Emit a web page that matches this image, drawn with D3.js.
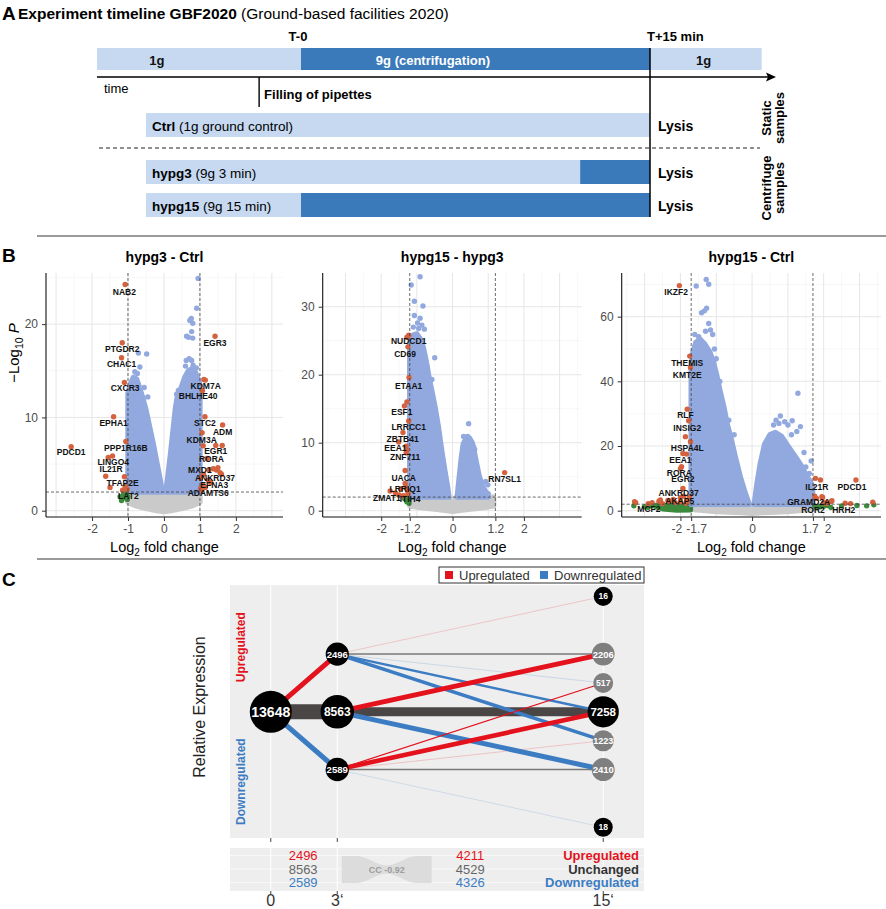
<!DOCTYPE html>
<html><head><meta charset="utf-8">
<script src="https://cdn.jsdelivr.net/npm/d3@7"></script>
<style>
body{margin:0;background:#fff}
svg{display:block}
text{font-family:"Liberation Sans",Arial,Helvetica,sans-serif}
</style></head>
<body><svg id="c" width="886" height="909"></svg>
<script>
// ================= DATA =================
// --- A: timeline (minutes relative to T-0) ---
const phases = [
  {label:"1g", start:-8.77, end:0, g:1, labelAt:-6.2},
  {label:"9g (centrifugation)", start:0, end:15, g:9, labelAt:5.67},
  {label:"1g", start:15, end:19.8, g:1, labelAt:17.3}
];
const timeEvents = [{label:"T-0", t:0, anchor:"middle"}, {label:"T+15 min", t:15, anchor:"start"}];
const fillingTime = -1.8;
const samples = [
  {name:"Ctrl", desc:" (1g ground control)", start:-6.66, end:15, g9from:null},
  {name:"hypg3", desc:" (9g 3 min)", start:-6.66, end:15, g9from:12},
  {name:"hypg15", desc:" (9g 15 min)", start:-6.66, end:15, g9from:0}
];
const sampleGroups = [["Static","samples"],["Centrifuge","samples"]];

// --- B: volcano plots (x = log2 FC, y = -log10 P) ---
const p1Grey = [[-1,2],[-0.08,2],[0,0.6],[0.08,2],[1,2],[1,0.9],[0.8,0.55],[0.5,0.25],[0.2,0.02],[0,-0.1],[-0.2,0.02],[-0.5,0.25],[-0.8,0.55],[-1,0.9]];
const p1BlueLeft = [[-1,2],[-1,12.6],[-0.93,13.6],[-0.85,14.3],[-0.76,14.1],[-0.68,13.2],[-0.6,12.2],[-0.5,10.8],[-0.4,9.0],[-0.3,7.2],[-0.2,5.2],[-0.1,3.2],[-0.05,2]];
const p1BlueRight = [[0.05,2],[0.1,3.4],[0.18,6],[0.25,8.5],[0.32,11],[0.38,12.4],[0.48,13.2],[0.58,14.3],[0.68,15],[0.78,15.2],[0.88,14.8],[0.96,14],[1,13.5],[1,2]];
const p1Points = [[-0.71,16.9],[-0.48,16.8],[-0.67,15.4],[-0.81,14.9],[-0.74,14.7],[-0.95,13.3],[-0.55,13.2],[-0.45,12.2],
  [0.95,24.9],[0.91,21.7],[0.72,20.4],[0.8,20.1],[0.76,20.6],[0.63,18.7],[0.77,19.2],[0.8,18.5],[0.68,18.6],[0.7,16.3],[0.77,16.1],[0.62,16.1],[0.81,15.6],[0.6,15.5],[0.9,15.3],[0.4,12.9],[0.35,12.5],
  [-1.55,5.71],[-1.1,3.64],[-1.08,2.6],[-1.02,2.3],[-1.15,2.2],[1.15,14.0],[1.09,6.96],[1.46,4.36],[1.56,4.07],[1.5,4.6],[1.02,3.5],[1.15,2.5],[1.6,3.9],[1.3,3.0],[1.02,2.4],[1.1,3.9],[1.25,4.4],[1.62,7.0],
  [-1.22,1.5],[-1.15,1.3],[-1.08,1.6],[-1.02,1.2],[-1.12,1.85],[-1.05,1.9],[-1.01,1.5],[-1.18,1.1]];
const p1Genes = [
  {gene:"NAB2",x:-1.08,y:24.25,lx:-1.1,ly:23.45},{gene:"PTGDR2",x:-1.16,y:18.0,lx:-1.16,ly:17.3},
  {gene:"CHAC1",x:-1.18,y:16.4,lx:-1.18,ly:15.7},{gene:"CXCR3",x:-1.1,y:13.75,lx:-1.08,ly:13.2},
  {gene:"EPHA1",x:-1.4,y:10.07,lx:-1.4,ly:9.36},{gene:"PPP1R16B",x:-1.06,y:7.43,lx:-1.06,ly:6.75},
  {gene:"PDCD1",x:-2.58,y:6.86,lx:-2.58,ly:6.25},{gene:"LINGO4",x:-1.43,y:5.86,lx:-1.41,ly:5.21},
  {gene:"IL21R",x:-1.62,y:3.7,lx:-1.47,ly:4.43},{gene:"TFAP2E",x:-1.5,y:2.5,lx:-1.15,ly:3.0},
  {gene:"LAT2",x:-1.1,y:1.5,lx:-0.99,ly:1.57},{gene:"EGR3",x:1.42,y:18.7,lx:1.42,ly:18.0},
  {gene:"KDM7A",x:1.11,y:14.07,lx:1.16,ly:13.36},{gene:"BHLHE40",x:1.07,y:12.86,lx:0.95,ly:12.3},
  {gene:"STC2",x:1.14,y:10.07,lx:1.14,ly:9.36},{gene:"ADM",x:1.63,y:9.18,lx:1.63,ly:8.43},
  {gene:"KDM3A",x:1.06,y:8.36,lx:1.05,ly:7.57},{gene:"EGR1",x:1.44,y:7.0,lx:1.44,ly:6.36},
  {gene:"RORA",x:1.2,y:5.6,lx:1.32,ly:5.5},{gene:"MXD1",x:1.37,y:4.5,lx:1.0,ly:4.36},
  {gene:"ANKRD37",x:1.23,y:3.28,lx:1.42,ly:3.55},{gene:"EFNA3",x:1.09,y:2.75,lx:1.4,ly:2.72},
  {gene:"ADAMTS6",x:1.05,y:2.2,lx:1.23,ly:1.9}];

const p2Grey = [[-1.2,2],[-0.1,2],[0,0.5],[0.1,2],[1.15,2],[1.15,0.7],[0.9,0.45],[0.5,0.25],[0.15,0],[0,-0.1],[-0.15,0],[-0.5,0.25],[-0.9,0.45],[-1.2,0.7]];
const p2BlueLeft = [[-1.2,2],[-1.2,24.5],[-1.12,25.8],[-1.0,26],[-0.9,25.2],[-0.82,24],[-0.74,22],[-0.66,19.6],[-0.57,17.3],[-0.49,15.2],[-0.4,12.4],[-0.31,9],[-0.22,6],[-0.14,3.5],[-0.1,2]];
const p2BlueRight = [[0.13,2],[0.18,4.5],[0.24,7.5],[0.3,9.8],[0.38,10.6],[0.47,10.7],[0.55,10.0],[0.61,8.6],[0.67,7],[0.75,5],[0.85,3.5],[0.97,2.4],[1.0,2]];
const p2Points = [[-0.91,34.4],[-1.16,33.2],[-1.07,30.8],[-0.83,30.1],[-1.07,28.7],[-0.91,28.3],[-0.86,27.3],[-0.79,26.7],[-0.98,27.6],[-0.5,22.5],[-0.72,21.2],[-0.58,19.3],[-1.1,27],[-0.95,26.8],
  [0.45,12.8],[0.31,10.9],[0.42,10.9],[0.46,10.6],[0.59,9.4],[0.62,9.0],[0.72,5.3],[0.93,4.3],[0.99,3.8],[0.9,3.0],[1.0,2.5],
  [-1.28,25.5],[-1.35,15.4],[-1.51,10.1],[-1.28,8.9],[-1.45,3.2],[-1.3,3.4],[-1.38,2.2],[-1.6,2.6],[-1.5,2.3],[-1.25,2.8],
  [-1.23,1.6],[-1.28,1.3],[-1.35,1.8],[-1.22,1.1]];
const p2Genes = [
  {gene:"NUDCD1",x:-1.23,y:25.8,lx:-1.23,ly:25.0},{gene:"CD69",x:-1.25,y:24.1,lx:-1.33,ly:23.0},
  {gene:"ETAA1",x:-1.22,y:19.6,lx:-1.23,ly:18.4},{gene:"ESF1",x:-1.28,y:16.0,lx:-1.42,ly:14.5},
  {gene:"LRRCC1",x:-1.23,y:13.2,lx:-1.23,ly:12.25},{gene:"ZBTB41",x:-1.39,y:11.5,lx:-1.4,ly:10.6},
  {gene:"EEA1",x:-1.3,y:9.5,lx:-1.6,ly:9.2},{gene:"ZNF711",x:-1.3,y:8.5,lx:-1.33,ly:7.9},
  {gene:"UACA",x:-1.33,y:5.9,lx:-1.37,ly:4.75},{gene:"LRRIQ1",x:-1.33,y:4.0,lx:-1.33,ly:3.14},
  {gene:"ZMAT1",x:-1.75,y:2.9,lx:-1.84,ly:1.8},{gene:"ITIH4",x:-1.25,y:2.4,lx:-1.19,ly:1.67},
  {gene:"RN7SL1",x:1.46,y:5.6,lx:1.46,ly:4.65}];

const p3Grey = [[-1.7,2],[-0.08,2],[0,0.5],[0.08,2],[1.7,2],[1.7,0.4],[1.0,-0.3],[0.3,-0.6],[0,-0.8],[-0.3,-0.6],[-1.0,-0.3],[-1.7,0.4]];
const p3Green = [[-2.7,1.3],[-2.5,0.6],[-2.1,0.2],[-1.72,0.3],[-1.72,1.6],[-2.7,1.6]];
const p3BlueLeft = [[-1.7,2],[-1.7,44],[-1.65,49],[-1.57,52],[-1.45,53],[-1.32,51.5],[-1.18,49],[-1.08,46],[-0.98,41.5],[-0.9,37.3],[-0.79,32.2],[-0.7,27],[-0.6,22.9],[-0.47,16.7],[-0.33,10.5],[-0.19,5.4],[-0.08,2]];
const p3BlueRight = [[0.06,2],[0.14,8.5],[0.23,14.6],[0.35,20.5],[0.5,23.5],[0.65,24.2],[0.82,23],[1.0,20],[1.2,16.8],[1.38,13.8],[1.52,10.8],[1.65,8.5],[1.69,7.5],[1.69,2]];
const p3Points = [[-1.28,71.5],[-1.56,69.5],[-1.21,70],[-1.27,62.6],[-1.41,61.2],[-1.33,61.8],[-1.21,57.9],[-1.16,55.9],[-1.49,53.8],[-1.1,54.5],[-1.6,54.5],[-1.3,55.5],[-1.05,50],[-1.0,47],[-0.5,23.5],[-0.65,28],[-0.9,40],
  [1.28,36.3],[0.79,29.3],[0.67,28],[0.91,27.5],[1.12,27.8],[1.35,26],[0.6,26.5],[1.0,26.5],[0.75,27],[1.25,24.5],[1.1,23.5],[1.65,15.4],[1.45,18],[1.5,13.5],[1.6,11.5],
  [-1.72,21.3],[-1.83,17.5],[-2.0,13],[-2.0,4.0],[-2.2,3.5],[-3.28,2.8],[-3.25,2.5],[-2.79,2.5],[-2.56,3.3],[-2.6,2.9],[-2.3,3.0],[-2.5,2.2],[-2.15,2.5],[-1.85,2.3],[-1.8,3.0],[-2.0,2.8],[-1.75,4.2],
  [1.91,9.5],[2.23,3.1],[1.8,3.8],[2.1,2.4],[2.2,2.8],[2.75,2.2],[3.37,2.6],[1.75,4.5],[2.0,2.5],[1.95,4.3],
  [-3.0,1.2],[-2.8,1.6],[-3.3,1.5],[-2.9,1.0],[1.75,1.5],[1.9,1.2],[2.1,1.6],[2.2,1.0],[3.2,1.5],[3.4,1.8],[2.5,1.5],[2.93,1.6],[2.0,1.4],[1.8,0.9]];
const p3Genes = [
  {gene:"IKZF2",x:-2.03,y:69.6,lx:-2.12,ly:67.5},{gene:"THEMIS",x:-1.74,y:47.8,lx:-1.81,ly:45.6},
  {gene:"KMT2E",x:-1.72,y:44.3,lx:-1.81,ly:41.9},{gene:"RLF",x:-1.81,y:31.4,lx:-1.86,ly:29.6},
  {gene:"INSIG2",x:-1.77,y:27.8,lx:-1.81,ly:25.7},{gene:"HSPA4L",x:-1.86,y:22.9,lx:-1.81,ly:19.4},
  {gene:"EEA1",x:-1.93,y:17.7,lx:-2.0,ly:15.6},{gene:"RORA",x:-1.97,y:13.6,lx:-2.03,ly:11.8},
  {gene:"EGR2",x:-1.93,y:6.9,lx:-1.93,ly:9.7},{gene:"ANKRD37",x:-1.91,y:4.5,lx:-2.05,ly:5.4},
  {gene:"AKAP5",x:-2.35,y:3.2,lx:-2.02,ly:3.0},{gene:"MCF2",x:-2.9,y:2.2,lx:-2.88,ly:0.4},
  {gene:"IL21R",x:1.77,y:10,lx:1.81,ly:7.3},{gene:"PDCD1",x:2.9,y:9.5,lx:2.79,ly:7.3},
  {gene:"GRAMD2A",x:1.97,y:4.1,lx:1.58,ly:2.7},{gene:"ROR2",x:2.05,y:2.3,lx:1.7,ly:0.1},
  {gene:"HRH2",x:2.6,y:2.3,lx:2.56,ly:0.1}];

const volcanoTitles = ["hypg3 - Ctrl","hypg15 - hypg3","hypg15 - Ctrl"];
const fcCutoffs = [1, 1.2, 1.7];
const pCutoff = 2;
const xTickSets = [[-2,-1,0,1,2],[-2,-1.2,0,1.2,2],[-2,-1.7,0,1.7,2]];
const yTickSets = [[0,10,20],[0,10,20,30],[0,20,40,60]];

// --- C: transitions ---
const cNodes = [
  {id:"t0", time:0, level:0, count:13648, kind:"main"},
  {id:"u3", time:3, level:1, count:2496, kind:"main"},
  {id:"n3", time:3, level:0, count:8563, kind:"main"},
  {id:"d3", time:3, level:-1, count:2589, kind:"main"},
  {id:"uu", time:15, level:2, count:16, kind:"main"},
  {id:"un", time:15, level:1, count:2206, kind:"switch"},
  {id:"nu", time:15, level:0.5, count:517, kind:"switch"},
  {id:"nn", time:15, level:0, count:7258, kind:"main"},
  {id:"nd", time:15, level:-0.5, count:1223, kind:"switch"},
  {id:"dn", time:15, level:-1, count:2410, kind:"switch"},
  {id:"dd", time:15, level:-2, count:18, kind:"main"}
];
const cFlows = [
  {from:"t0", to:"n3", n:8563, dir:"same"},
  {from:"n3", to:"nn", n:4900, dir:"same"},
  {from:"u3", to:"uu", n:16, dir:"up"},
  {from:"u3", to:"nu", n:60, dir:"down"},
  {from:"d3", to:"nd", n:60, dir:"up"},
  {from:"d3", to:"dd", n:18, dir:"down"},
  {from:"u3", to:"un", n:400, dir:"same"},
  {from:"d3", to:"dn", n:400, dir:"same"},
  {from:"t0", to:"d3", n:2589, dir:"down"},
  {from:"n3", to:"dn", n:2500, dir:"down"},
  {from:"u3", to:"nd", n:1600, dir:"down"},
  {from:"u3", to:"nn", n:1000, dir:"down"},
  {from:"t0", to:"u3", n:2496, dir:"up"},
  {from:"n3", to:"un", n:2500, dir:"up"},
  {from:"d3", to:"nn", n:2300, dir:"up"},
  {from:"d3", to:"nu", n:250, dir:"up"}
];
const timeTicks = [0, 3, 15];
const timeTickLabels = ["0", "3‘", "15‘"];
const summaryRows = ["Upregulated", "Unchanged", "Downregulated"];
const summary3 = [2496, 8563, 2589];
const summary15 = [4211, 4529, 4326];
const ccValue = -0.92;
const ccProfile = [[0,1],[0.17,1],[0.5,0.3],[0.83,1],[1,1]];

// ================= DRAW =================
const svg = d3.select("#c");
const LIGHT = "#c6d9f0", DARK = "#3a7aba";

// ---------- A ----------
(function(){
  const g = svg.append("g");
  const tx = d3.scaleLinear().domain([0, 15]).range([301, 650]);
  g.append("text").attr("x", 2).attr("y", 20).attr("font-size", 19).attr("font-weight", "bold").text("A");
  const t = g.append("text").attr("x", 18).attr("y", 19).attr("font-size", 15.5);
  t.append("tspan").attr("font-weight", "bold").text("Experiment timeline GBF2020");
  t.append("tspan").text(" (Ground-based facilities 2020)");

  g.selectAll(".ev").data(timeEvents).join("text")
    .attr("x", d => tx(d.t) - 3).attr("y", 41)
    .attr("text-anchor", d => d.anchor).attr("font-size", 13).attr("font-weight", "bold").text(d => d.label);

  g.selectAll(".ph").data(phases).join("rect")
    .attr("x", d => tx(d.start)).attr("y", 48).attr("width", d => tx(d.end) - tx(d.start)).attr("height", 22)
    .attr("fill", d => d.g === 9 ? DARK : LIGHT);
  g.selectAll(".phl").data(phases).join("text")
    .attr("x", d => tx(d.labelAt)).attr("y", 65).attr("text-anchor", "middle")
    .attr("font-size", 13).attr("font-weight", "bold").attr("fill", d => d.g === 9 ? "#fff" : "#111").text(d => d.label);

  g.append("line").attr("x1", tx(phases[0].start)).attr("x2", 768).attr("y1", 77).attr("y2", 77).attr("stroke", "#000").attr("stroke-width", 1.6);
  g.append("path").attr("d", "M776,77 L766,72.5 L768,77 L766,81.5 Z").attr("fill", "#000");
  g.append("text").attr("x", 104).attr("y", 93).attr("font-size", 13).text("time");
  g.append("line").attr("x1", tx(fillingTime)).attr("x2", tx(fillingTime)).attr("y1", 77).attr("y2", 107).attr("stroke", "#000").attr("stroke-width", 1.4);
  g.append("text").attr("x", tx(fillingTime) + 5).attr("y", 99).attr("font-size", 13).attr("font-weight", "bold").text("Filling of pipettes");

  const rowTop = [113, 160, 193];
  samples.forEach((s, i) => {
    const y0 = rowTop[i];
    g.append("rect").attr("x", tx(s.start)).attr("y", y0).attr("width", tx(s.end) - tx(s.start)).attr("height", 24).attr("fill", LIGHT);
    if (s.g9from !== null) g.append("rect").attr("x", tx(s.g9from)).attr("y", y0).attr("width", tx(s.end) - tx(s.g9from)).attr("height", 24).attr("fill", DARK);
    const tt = g.append("text").attr("x", tx(s.start) + 6).attr("y", y0 + 17.5).attr("font-size", 13.5);
    tt.append("tspan").attr("font-weight", "bold").text(s.name);
    tt.append("tspan").text(s.desc);
    g.append("text").attr("x", tx(s.end) + 8).attr("y", y0 + 17.5).attr("font-size", 14).attr("font-weight", "bold").text("Lysis");
  });
  g.append("line").attr("x1", 99).attr("x2", 760).attr("y1", 148).attr("y2", 148).attr("stroke", "#222").attr("stroke-width", 1.2).attr("stroke-dasharray", "4,3");
  g.append("line").attr("x1", tx(15)).attr("x2", tx(15)).attr("y1", 48).attr("y2", 217).attr("stroke", "#000").attr("stroke-width", 1.5);

  const grpCenter = [118, 188];
  sampleGroups.forEach((lines, i) => {
    lines.forEach((w, j) => {
      g.append("text").attr("transform", `translate(${771 + j * 13},${grpCenter[i]}) rotate(-90)`)
        .attr("text-anchor", "middle").attr("font-size", 13).attr("font-weight", "bold").text(w);
    });
  });
  g.append("line").attr("x1", 37).attr("x2", 886).attr("y1", 236).attr("y2", 236).attr("stroke", "#9a9a9a").attr("stroke-width", 2);
})();

// ---------- B ----------
const VC = {grey:"#cacaca", green:"#3c8a3c", blue:"#92a9df", red:"#d5623f"};
const R = 2.7;
svg.append("text").attr("x", 2).attr("y", 262).attr("font-size", 19).attr("font-weight", "bold").text("B");

const panelLayout = [
  {left:46, right:283, xdom:[-3.28,3.31], ydom:[-0.675,25.48]},
  {left:322.7, right:581.7, xdom:[-3.64,3.62], ydom:[-0.93,34.96]},
  {left:621.7, right:881, xdom:[-3.64,3.6], ydom:[-1.95,73.5]}
];
const panelData = [
  {grey:p1Grey, green:null, blueL:p1BlueLeft, blueR:p1BlueRight, points:p1Points, genes:p1Genes},
  {grey:p2Grey, green:null, blueL:p2BlueLeft, blueR:p2BlueRight, points:p2Points, genes:p2Genes},
  {grey:p3Grey, green:p3Green, blueL:p3BlueLeft, blueR:p3BlueRight, points:p3Points, genes:p3Genes}
];
const TOP = 273, BOT = 517;

panelData.forEach((pd, i) => {
  const L = panelLayout[i];
  const cut = fcCutoffs[i];
  const x = d3.scaleLinear().domain(L.xdom).range([L.left, L.right]);
  const y = d3.scaleLinear().domain(L.ydom).range([BOT, TOP]);
  const g = svg.append("g");
  const yt = yTickSets[i];
  const step = yt[1] - yt[0];
  const yMinor = d3.range(yt[0] + step / 2, L.ydom[1], step);
  const yMajor = d3.range(yt[0], L.ydom[1], step);
  const xMajor = d3.range(-3, 3.01, 1);
  const xMinor = d3.range(-3.5, 3.6, 1).filter(v => v > L.xdom[0] && v < L.xdom[1]);
  g.selectAll(".ymi").data(yMinor).join("line").attr("x1", L.left).attr("x2", L.right).attr("y1", d => y(d)).attr("y2", d => y(d)).attr("stroke", "#f2f2f2").attr("stroke-width", 0.6);
  g.selectAll(".xmi").data(xMinor).join("line").attr("y1", TOP).attr("y2", BOT).attr("x1", d => x(d)).attr("x2", d => x(d)).attr("stroke", "#f2f2f2").attr("stroke-width", 0.6);
  g.selectAll(".yma").data(yMajor).join("line").attr("x1", L.left).attr("x2", L.right).attr("y1", d => y(d)).attr("y2", d => y(d)).attr("stroke", "#e6e6e6").attr("stroke-width", 1);
  g.selectAll(".xma").data(xMajor).join("line").attr("y1", TOP).attr("y2", BOT).attr("x1", d => x(d)).attr("x2", d => x(d)).attr("stroke", "#e6e6e6").attr("stroke-width", 1);

  const line = d3.line().x(d => x(d[0])).y(d => y(d[1])).curve(d3.curveLinearClosed);
  const blob = (pts, col) => g.append("path").attr("d", line(pts)).attr("fill", col).attr("stroke", col).attr("stroke-width", 2 * R).attr("stroke-linejoin", "round");
  blob(pd.grey, VC.grey);
  if (pd.green) blob(pd.green, VC.green);
  blob(pd.blueL, VC.blue);
  blob(pd.blueR, VC.blue);

  const cls = d => Math.abs(d[0]) > cut ? (d[1] > pCutoff ? "red" : "green") : (d[1] > pCutoff ? "blue" : "grey");
  const all = pd.points.concat(pd.genes.map(d => [d.x, d.y]));
  ["grey", "blue", "green", "red"].forEach(c => {
    g.selectAll(".pt-" + c).data(all.filter(d => cls(d) === c)).join("circle")
      .attr("cx", d => x(d[0])).attr("cy", d => y(d[1])).attr("r", R).attr("fill", VC[c]);
  });

  const dash = {stroke:"#444", "stroke-width":0.8, "stroke-dasharray":"3,2"};
  [-cut, cut].forEach(c => {
    const l = g.append("line").attr("x1", x(c)).attr("x2", x(c)).attr("y1", TOP).attr("y2", BOT);
    Object.entries(dash).forEach(([k, v]) => l.attr(k, v));
  });
  const hl = g.append("line").attr("x1", L.left).attr("x2", L.right).attr("y1", y(pCutoff)).attr("y2", y(pCutoff));
  Object.entries(dash).forEach(([k, v]) => hl.attr(k, v));

  g.selectAll(".lab").data(pd.genes).join("text")
    .attr("x", d => x(d.lx)).attr("y", d => y(d.ly)).attr("text-anchor", "middle").attr("dominant-baseline", "central")
    .attr("font-size", 8.5).attr("font-weight", "bold").attr("fill", "#111").text(d => d.gene);

  const ax = g.append("g").attr("transform", `translate(${L.left},0)`)
    .call(d3.axisLeft(y).tickValues(yt).tickSize(4).tickSizeOuter(0).tickPadding(4));
  const bx = g.append("g").attr("transform", `translate(0,${BOT})`)
    .call(d3.axisBottom(x).tickValues(xTickSets[i]).tickFormat(d => String(d)).tickSize(4).tickSizeOuter(0).tickPadding(3));
  [ax, bx].forEach(a => {
    a.selectAll("text").attr("font-family", "Liberation Sans, Arial, sans-serif").attr("font-size", 12).attr("fill", "#4d4d4d");
    a.selectAll(".tick line").attr("stroke", "#333");
    a.select(".domain").attr("stroke", "#111").attr("stroke-width", 1.1);
  });
  // keep closely spaced tick labels (e.g. -2 / -1.7) apart, as in the reference
  const ticks = xTickSets[i];
  bx.selectAll(".tick text").attr("dx", (d, k) => {
    if (k === 0 && x(ticks[1]) - x(ticks[0]) < 16) return -4;
    if (k === 1 && x(ticks[1]) - x(ticks[0]) < 16) return 5;
    if (k === 3 && x(ticks[4]) - x(ticks[3]) < 16) return -3;
    if (k === 4 && x(ticks[4]) - x(ticks[3]) < 16) return 4;
    return 0;
  });
  ax.select(".domain").attr("d", `M0,${TOP}V${BOT}`);
  bx.select(".domain").attr("d", `M${L.left},0H${L.right}`);

  g.append("text").attr("x", (L.left + L.right) / 2).attr("y", 262).attr("text-anchor", "middle")
    .attr("font-size", 14).attr("font-weight", "bold").text(volcanoTitles[i]);
  const xl = g.append("text").attr("x", (L.left + L.right) / 2).attr("y", 552).attr("text-anchor", "middle").attr("font-size", 14.5);
  xl.append("tspan").text("Log");
  xl.append("tspan").attr("font-size", 10).attr("dy", 4).text("2");
  xl.append("tspan").attr("dy", -4).text(" fold change");
  if (i === 0) {
    const yl = g.append("text").attr("transform", "translate(19,353) rotate(-90)").attr("text-anchor", "middle").attr("font-size", 15);
    yl.append("tspan").text("−Log");
    yl.append("tspan").attr("font-size", 10.5).attr("dy", 4).text("10");
    yl.append("tspan").attr("dy", -4).attr("font-style", "italic").text(" P");
  }
});

svg.append("line").attr("x1", 37).attr("x2", 886).attr("y1", 559).attr("y2", 559).attr("stroke", "#9a9a9a").attr("stroke-width", 2);

// ---------- C ----------
(function(){
  const UP = "#e3121c", DOWN = "#3b7cc3", SAME = "#4a4646";
  const g = svg.append("g");
  g.append("text").attr("x", 2).attr("y", 586).attr("font-size", 19).attr("font-weight", "bold").text("C");
  const PL = 230, PR = 644, PT = 585, PB = 838;
  const xC = d3.scaleLinear().domain([-1.84, 16.84]).range([PL, PR]);
  const yC = d3.scaleLinear().domain([-2.186, 2.197]).range([PB, PT]);
  const rC = d3.scaleLinear().domain([0, 13648]).range([9.5, 21]);
  const wC = d3.scaleLinear().domain([0, 8563]).range([0.8, 15]);
  const colDir = {up: UP, down: DOWN, same: SAME};

  g.append("rect").attr("x", PL).attr("y", PT).attr("width", PR - PL).attr("height", PB - PT).attr("fill", "#eeeeee");
  g.selectAll(".vg").data(timeTicks).join("line").attr("x1", d => xC(d)).attr("x2", d => xC(d)).attr("y1", PT).attr("y2", PB).attr("stroke", "#fff").attr("stroke-width", 1);
  g.selectAll(".tk").data(timeTicks).join("line").attr("x1", d => xC(d)).attr("x2", d => xC(d)).attr("y1", PB).attr("y2", PB + 4).attr("stroke", "#444");

  const byId = new Map(cNodes.map(d => [d.id, d]));
  g.selectAll(".fl").data(cFlows).join("line")
    .attr("x1", d => xC(byId.get(d.from).time)).attr("y1", d => yC(byId.get(d.from).level))
    .attr("x2", d => xC(byId.get(d.to).time)).attr("y2", d => yC(byId.get(d.to).level))
    .attr("stroke", d => colDir[d.dir]).attr("stroke-width", d => wC(d.n))
    .attr("stroke-opacity", d => d.n < 150 ? 0.22 : (d.dir === "same" && d.n < 1000 ? 0.7 : 1));

  const nd = g.selectAll(".nd").data(cNodes).join("g").attr("transform", d => `translate(${xC(d.time)},${yC(d.level)})`);
  nd.append("circle").attr("r", d => rC(d.count)).attr("fill", d => d.kind === "switch" ? "#7f7f7f" : "#000");
  nd.append("text").attr("text-anchor", "middle").attr("dominant-baseline", "central").attr("fill", "#fff")
    .attr("font-weight", "bold").attr("font-size", d => 4 + rC(d.count) * 0.48).text(d => d.count);

  g.append("rect").attr("x", 439).attr("y", 567).attr("width", 205).attr("height", 16).attr("fill", "#fff").attr("stroke", "#333").attr("stroke-width", 1);
  [["Upregulated", UP, 445], ["Downregulated", DOWN, 540]].forEach(([t, c, x0]) => {
    g.append("rect").attr("x", x0).attr("y", 571).attr("width", 8).attr("height", 8).attr("fill", c);
    g.append("text").attr("x", x0 + 14).attr("y", 580).attr("font-size", 13).attr("fill", "#333").text(t);
  });

  g.append("text").attr("transform", `translate(245,${yC(1.12)}) rotate(-90)`).attr("text-anchor", "middle").attr("font-size", 12).attr("font-weight", "bold").attr("fill", UP).text("Upregulated");
  g.append("text").attr("transform", `translate(245,${yC(-1.21)}) rotate(-90)`).attr("text-anchor", "middle").attr("font-size", 12).attr("font-weight", "bold").attr("fill", DOWN).text("Downregulated");
  g.append("text").attr("transform", "translate(205,707) rotate(-90)").attr("text-anchor", "middle").attr("font-size", 16).attr("fill", "#222").text("Relative Expression");

  const TT = 848, TB = 891;
  g.append("rect").attr("x", PL).attr("y", TT).attr("width", PR - PL).attr("height", TB - TT).attr("fill", "#eeeeee");
  const rowY = d3.scalePoint().domain(summaryRows).range([855.5, 882.5]);
  g.selectAll(".hg").data(summaryRows).join("line").attr("x1", PL).attr("x2", PR).attr("y1", d => rowY(d)).attr("y2", d => rowY(d)).attr("stroke", "#fff").attr("stroke-width", 0.6);
  g.selectAll(".vg2").data(timeTicks).join("line").attr("x1", d => xC(d)).attr("x2", d => xC(d)).attr("y1", TT).attr("y2", TB).attr("stroke", "#fff").attr("stroke-width", 1);
  g.selectAll(".tk2").data(timeTicks).join("line").attr("x1", d => xC(d)).attr("x2", d => xC(d)).attr("y1", TB).attr("y2", TB + 3).attr("stroke", "#444");
  const rowCol = [UP, "#666", DOWN];
  const labCol = [UP, "#333", DOWN];
  summaryRows.forEach((r, i) => {
    g.append("text").attr("x", xC(1.46)).attr("y", rowY(r) + 4.5).attr("text-anchor", "middle").attr("font-size", 13).attr("fill", rowCol[i]).text(summary3[i]);
    g.append("text").attr("x", xC(9)).attr("y", rowY(r) + 4.5).attr("text-anchor", "middle").attr("font-size", 13).attr("fill", rowCol[i]).text(summary15[i]);
    g.append("text").attr("x", 639).attr("y", rowY(r) + 4.5).attr("text-anchor", "end").attr("font-size", 13).attr("font-weight", "bold").attr("fill", labCol[i]).text(r);
  });
  const cx = d3.scaleLinear().domain([0, 1]).range([xC(3.2), xC(7.26)]);
  const cy = 869.5, hh = 13.5;
  const area = d3.area().x(d => cx(d[0])).y0(d => cy - hh * d[1]).y1(d => cy + hh * d[1]).curve(d3.curveMonotoneX);
  g.append("path").attr("d", area(ccProfile)).attr("fill", "#dcdcdc");
  g.append("text").attr("x", cx(0.5)).attr("y", 873).attr("text-anchor", "middle").attr("font-size", 9).attr("font-weight", "bold").attr("fill", "#9d9d9d").text("CC " + ccValue);

  g.selectAll(".xl").data(timeTicks).join("text").attr("x", d => xC(d)).attr("y", 906).attr("text-anchor", "middle")
    .attr("font-size", 16).attr("fill", "#333").text((d, i) => timeTickLabels[i]);
})();
</script></body></html>
